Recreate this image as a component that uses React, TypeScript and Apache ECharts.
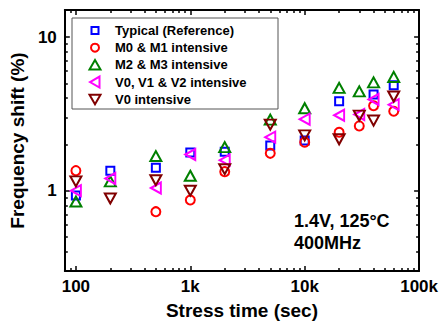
import React, { useEffect, useRef } from "react";
import * as echarts from "echarts";

const times = [100, 200, 500, 1000, 2000, 5000, 10000, 20000, 30000, 40000, 60000];
const typical = [0.93, 1.35, 1.41, 1.77, 1.79, 1.97, 2.12, 3.82, null, 4.22, 4.85];
const m0m1 = [1.35, null, 0.73, 0.87, 1.33, 1.75, 2.07, 2.4, 2.64, 3.57, 3.29];
const m2m3 = [0.85, 1.15, 1.68, 1.25, 1.92, 2.9, 3.44, 4.67, 4.43, 5.07, 5.5];
const v0v1v2 = [1.0, 1.2, 1.04, 1.72, 1.58, 2.23, 2.92, 3.1, 3.13, 3.92, 3.63];
const v0 = [1.15, 0.89, 1.17, 1.0, 1.38, 2.69, 2.29, 2.16, 3.08, 2.86, 4.1];

const seriesNames = [
  "Typical (Reference)",
  "M0 & M1 intensive",
  "M2 & M3 intensive",
  "V0, V1 & V2 intensive",
  "V0 intensive",
];
const seriesColors = ["#0000ff", "#ff0000", "#008000", "#ff00ff", "#800000"];

const xMajor = [100, 1000, 10000, 100000];
const xMinor = [90, 200, 300, 400, 500, 600, 700, 800, 900, 2000, 3000, 4000, 5000, 6000, 7000, 8000, 9000, 20000, 30000, 40000, 50000, 60000, 70000, 80000, 90000];
const yMajor = [1, 10];
const yMinor = [0.3, 0.4, 0.5, 0.6, 0.7, 0.8, 0.9, 2, 3, 4, 5, 6, 7, 8, 9];
const xLabelText: Record<number, string> = { 100: "100", 1000: "1k", 10000: "10k", 100000: "100k" };
const annotation = ["1.4V, 125°C", "400MHz"];

const FONT = "'Liberation Sans', Arial, sans-serif";

export default function App() {
  const ref = useRef<HTMLDivElement>(null);
  useEffect(() => {
    if (!ref.current) return;
    document.body.style.margin = "0";
    const chart = echarts.init(ref.current, null, { renderer: "svg" });
    const allSeries = [typical, m0m1, m2m3, v0v1v2, v0];
    const symbols = ["rect", "circle", "triangle", "triangle", "triangle"];
    const sizes: any[] = [8, 9, [11, 10], [11, 10], [11, 10]];
    const rotates = [0, 0, 0, 90, 180];

    const axisLineStyle = { color: "#000", width: 2 };
    const mkX = (pos: string, major: boolean, labels: boolean) => ({
      type: "log",
      logBase: 10,
      min: 80,
      max: 100000,
      position: pos,
      axisLine: { show: major, onZero: false, lineStyle: axisLineStyle },
      axisTick: {
        show: true,
        inside: true,
        length: major ? 5 : 3,
        lineStyle: { color: "#000", width: 1.5 },
        customValues: major ? xMajor : xMinor,
      },
      axisLabel: labels
        ? {
            show: true,
            customValues: xMajor,
            formatter: (v: number) => xLabelText[Math.round(v)] ?? "",
            fontFamily: FONT,
            fontWeight: "bold",
            fontSize: 17,
            color: "#000",
            margin: 7,
          }
        : { show: false },
      splitLine: { show: false },
      minorTick: { show: false },
      ...(labels
        ? {
            name: "Stress time (sec)",
            nameLocation: "middle",
            nameGap: 30,
            nameTextStyle: { fontFamily: FONT, fontWeight: "bold", fontSize: 19, color: "#000" },
          }
        : {}),
    });
    const mkY = (pos: string, major: boolean, labels: boolean) => ({
      type: "log",
      logBase: 10,
      min: 0.3,
      max: 15,
      position: pos,
      axisLine: { show: major, onZero: false, lineStyle: axisLineStyle },
      axisTick: {
        show: true,
        inside: true,
        length: major ? 5 : 3,
        lineStyle: { color: "#000", width: 1.5 },
        customValues: major ? yMajor : yMinor,
      },
      axisLabel: labels
        ? {
            show: true,
            customValues: yMajor,
            formatter: (v: number) => String(Math.round(v)),
            fontFamily: FONT,
            fontWeight: "bold",
            fontSize: 17,
            color: "#000",
            margin: 8,
          }
        : { show: false },
      splitLine: { show: false },
      minorTick: { show: false },
      ...(labels
        ? {
            name: "Frequency shift (%)",
            nameLocation: "middle",
            nameGap: 30,
            nameTextStyle: { fontFamily: FONT, fontWeight: "bold", fontSize: 19, color: "#000" },
          }
        : {}),
    });

    const legendX = 72, legendY = 18, legendW = 206, legendH = 91;
    const rowY0 = 30.5, rowStep = 17.2, symX = 95, textX = 115;
    const legendEls: any[] = [
      {
        type: "rect",
        shape: { x: legendX, y: legendY, width: legendW, height: legendH },
        style: { fill: "#fff", stroke: "#555", lineWidth: 1 },
        z: 100,
      },
    ];
    seriesNames.forEach((name, i) => {
      const cy = rowY0 + i * rowStep;
      const st = { fill: "none", stroke: seriesColors[i], lineWidth: 2 };
      let el: any;
      if (i === 0) el = { type: "rect", shape: { x: symX - 3.5, y: cy - 3.5, width: 7, height: 7 }, style: st };
      else if (i === 1) el = { type: "circle", shape: { cx: symX, cy, r: 4 }, style: st };
      else if (i === 2)
        el = { type: "polygon", shape: { points: [[symX, cy - 5], [symX + 5.5, cy + 4.5], [symX - 5.5, cy + 4.5]] }, style: st };
      else if (i === 3)
        el = { type: "polygon", shape: { points: [[symX - 5, cy], [symX + 4.5, cy - 5.5], [symX + 4.5, cy + 5.5]] }, style: st };
      else
        el = { type: "polygon", shape: { points: [[symX, cy + 5], [symX + 5.5, cy - 4.5], [symX - 5.5, cy - 4.5]] }, style: st };
      el.z = 101;
      legendEls.push(el);
      legendEls.push({
        type: "text",
        x: textX,
        y: cy,
        z: 101,
        style: {
          text: name,
          fill: "#000",
          font: `bold 13px ${FONT}`,
          textVerticalAlign: "middle",
        },
      });
    });
    annotation.forEach((t, i) => {
      legendEls.push({
        type: "text",
        x: 294,
        y: 221 + i * 22,
        z: 101,
        style: { text: t, fill: "#000", font: `bold 18px ${FONT}`, textVerticalAlign: "middle" },
      });
    });

    chart.setOption({
      animation: false,
      backgroundColor: "#fff",
      grid: { left: 61, right: 21, top: 10, bottom: 51, containLabel: false },
      xAxis: [mkX("bottom", true, true), mkX("bottom", false, false), mkX("top", true, false), mkX("top", false, false)],
      yAxis: [mkY("left", true, true), mkY("left", false, false), mkY("right", true, false), mkY("right", false, false)],
      series: allSeries.map((vals, i) => ({
        type: "scatter",
        name: seriesNames[i],
        xAxisIndex: 0,
        yAxisIndex: 0,
        symbol: symbols[i],
        symbolSize: sizes[i],
        symbolRotate: rotates[i],
        data: times.map((t, j) => (vals[j] == null ? null : [t, vals[j]])).filter((d) => d != null),
        itemStyle: { color: "transparent", borderColor: seriesColors[i], borderWidth: 2, opacity: 1 },
      })),
      graphic: legendEls,
    });
    return () => chart.dispose();
  }, []);
  return <div ref={ref} style={{ width: 441, height: 325 }} />;
}
